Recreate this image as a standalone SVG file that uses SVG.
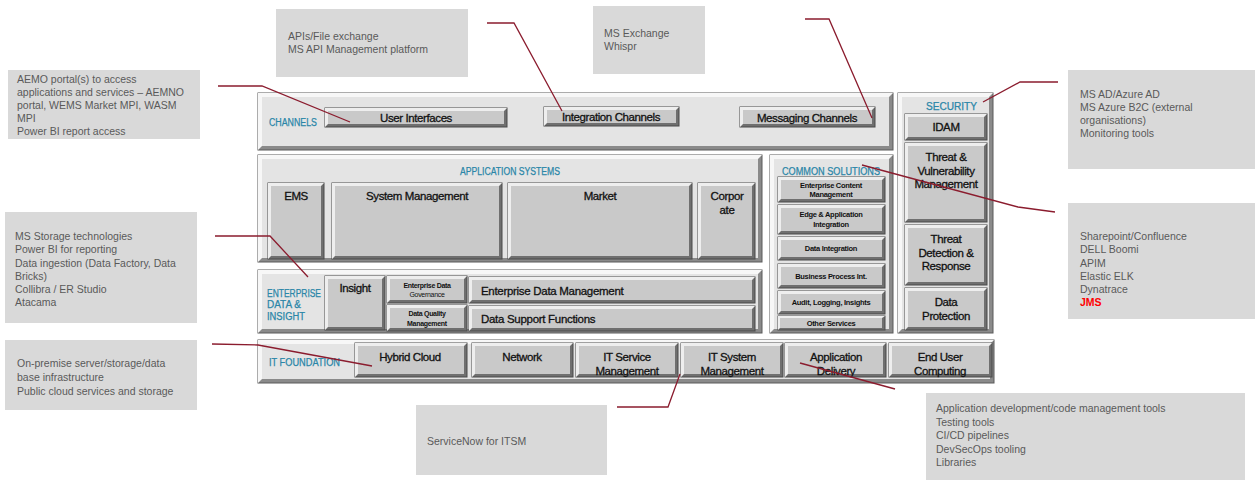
<svg xmlns="http://www.w3.org/2000/svg" width="1255" height="480" viewBox="0 0 1255 480">
<style>
.call{fill:#d9d9d9}
.ct{font-family:"Liberation Sans",Arial,sans-serif;font-size:10.5px;fill:#595959}
.red{fill:#ff0000;font-weight:bold}
.pdark{fill:#8a8a8a;stroke:#5a5a5a;stroke-width:1}
.plight{fill:#f7f7f7}
.pface{fill:#e4e4e4}
.bdark{fill:#6f6f6f;stroke:#4a4a4a;stroke-width:1}
.blight{fill:#eeeeee}
.bface{fill:#c9c9c9}
.lbl{font-family:"Liberation Sans",Arial,sans-serif;font-size:10px;fill:#2a86a8;stroke:#2a86a8;stroke-width:0.25}
.bt{font-family:"Liberation Sans",Arial,sans-serif;font-size:11.5px;fill:#111;stroke:#111;stroke-width:0.3;text-anchor:middle;letter-spacing:-0.4px}
.bl{font-family:"Liberation Sans",Arial,sans-serif;font-size:11.5px;fill:#111;stroke:#111;stroke-width:0.3;letter-spacing:-0.3px}
.bs{font-family:"Liberation Sans",Arial,sans-serif;font-size:7.5px;font-weight:bold;fill:#111;text-anchor:middle;letter-spacing:-0.3px}
.conn{fill:none;stroke:#8b1c2e;stroke-width:1.3}
</style>

<!-- callouts -->
<g id="callout-channels-ui">
<rect class="call" x="8" y="70" width="192" height="69"/>
<text class="ct" x="17" y="83">AEMO portal(s) to access</text>
<text class="ct" x="17" y="96">applications and services – AEMNO</text>
<text class="ct" x="17" y="109">portal, WEMS Market MPI, WASM</text>
<text class="ct" x="17" y="122">MPI</text>
<text class="ct" x="17" y="135">Power BI report access</text>
</g>
<g id="callout-integration">
<rect class="call" x="276" y="9" width="192" height="68"/>
<text class="ct" x="288" y="40">APIs/File exchange</text>
<text class="ct" x="288" y="53">MS API Management platform</text>
</g>
<g id="callout-messaging">
<rect class="call" x="593" y="6" width="112" height="68"/>
<text class="ct" x="604" y="37">MS Exchange</text>
<text class="ct" x="604" y="50">Whispr</text>
</g>
<g id="callout-security">
<rect class="call" x="1068" y="70" width="187" height="99"/>
<text class="ct" x="1080" y="98">MS AD/Azure AD</text>
<text class="ct" x="1080" y="111">MS Azure B2C (external</text>
<text class="ct" x="1080" y="124">organisations)</text>
<text class="ct" x="1080" y="137">Monitoring tools</text>
</g>
<g id="callout-common">
<rect class="call" x="1068" y="203" width="187" height="116"/>
<text class="ct" x="1080" y="240">Sharepoint/Confluence</text>
<text class="ct" x="1080" y="253">DELL Boomi</text>
<text class="ct" x="1080" y="267">APIM</text>
<text class="ct" x="1080" y="280">Elastic ELK</text>
<text class="ct" x="1080" y="293">Dynatrace</text>
<text class="ct red" x="1080" y="306">JMS</text>
</g>
<g id="callout-data">
<rect class="call" x="5" y="212" width="192" height="111"/>
<text class="ct" x="15" y="240">MS Storage technologies</text>
<text class="ct" x="15" y="253">Power BI for reporting</text>
<text class="ct" x="15" y="267">Data ingestion (Data Factory, Data</text>
<text class="ct" x="15" y="280">Bricks)</text>
<text class="ct" x="15" y="293">Collibra / ER Studio</text>
<text class="ct" x="15" y="306">Atacama</text>
</g>
<g id="callout-infra">
<rect class="call" x="5" y="340" width="192" height="70"/>
<text class="ct" x="17" y="367">On-premise server/storage/data</text>
<text class="ct" x="17" y="381">base infrastructure</text>
<text class="ct" x="17" y="395">Public cloud services and storage</text>
</g>
<g id="callout-itsm">
<rect class="call" x="416" y="405" width="191" height="70"/>
<text class="ct" x="427" y="445">ServiceNow for ITSM</text>
</g>
<g id="callout-appdel">
<rect class="call" x="926" y="393" width="319" height="87"/>
<text class="ct" x="936" y="412">Application development/code management tools</text>
<text class="ct" x="936" y="426">Testing tools</text>
<text class="ct" x="936" y="439">CI/CD pipelines</text>
<text class="ct" x="936" y="453">DevSecOps tooling</text>
<text class="ct" x="936" y="466">Libraries</text>
</g>

<!-- panels -->
<g id="panel-channels">
<rect class="pdark" x="258" y="93" width="635" height="57"/>
<polygon class="plight" points="258,93 893,93 889,97 262,97 262,146 258,150"/>
<rect class="pface" x="262" y="97" width="627" height="49"/>
<text class="lbl" x="269" y="126" textLength="48" lengthAdjust="spacingAndGlyphs">CHANNELS</text>
</g>
<g id="panel-security">
<rect class="pdark" x="898" y="93" width="95" height="240"/>
<polygon class="plight" points="898,93 993,93 989,97 902,97 902,329 898,333"/>
<rect class="pface" x="902" y="97" width="87" height="232"/>
<text class="lbl" x="926" y="110" textLength="51" lengthAdjust="spacingAndGlyphs">SECURITY</text>
</g>
<g id="panel-apps">
<rect class="pdark" x="258" y="155" width="504" height="107"/>
<polygon class="plight" points="258,155 762,155 758,159 262,159 262,258 258,262"/>
<rect class="pface" x="262" y="159" width="496" height="99"/>
<text class="lbl" x="460" y="175" textLength="100" lengthAdjust="spacingAndGlyphs">APPLICATION SYSTEMS</text>
</g>
<g id="panel-common">
<rect class="pdark" x="770" y="155" width="123" height="178"/>
<polygon class="plight" points="770,155 893,155 889,159 774,159 774,329 770,333"/>
<rect class="pface" x="774" y="159" width="115" height="170"/>
<text class="lbl" x="782" y="175" textLength="98" lengthAdjust="spacingAndGlyphs">COMMON SOLUTIONS</text>
</g>
<g id="panel-data">
<rect class="pdark" x="258" y="270" width="504" height="63"/>
<polygon class="plight" points="258,270 762,270 758,274 262,274 262,329 258,333"/>
<rect class="pface" x="262" y="274" width="496" height="55"/>
<text class="lbl" x="267" y="297" textLength="54" lengthAdjust="spacingAndGlyphs">ENTERPRISE</text>
<text class="lbl" x="267" y="308" textLength="34" lengthAdjust="spacingAndGlyphs">DATA &amp;</text>
<text class="lbl" x="267" y="320" textLength="38" lengthAdjust="spacingAndGlyphs">INSIGHT</text>
</g>
<g id="panel-foundation">
<rect class="pdark" x="258" y="340" width="736" height="43"/>
<polygon class="plight" points="258,340 994,340 990,344 262,344 262,379 258,383"/>
<rect class="pface" x="262" y="344" width="728" height="35"/>
<text class="lbl" x="269" y="366" textLength="71" lengthAdjust="spacingAndGlyphs">IT FOUNDATION</text>
</g>

<!-- buttons -->
<g id="btn-user-interfaces">
<rect class="bdark" x="325" y="108" width="182" height="19"/>
<polygon class="blight" points="325,108 507,108 504,111 328,111 328,124 325,127"/>
<rect class="bface" x="328" y="111" width="176" height="13"/>
<text class="bt" x="416" y="122">User Interfaces</text>
</g>
<g id="btn-integration">
<rect class="bdark" x="544" y="107" width="135" height="19"/>
<polygon class="blight" points="544,107 679,107 676,110 547,110 547,123 544,126"/>
<rect class="bface" x="547" y="110" width="129" height="13"/>
<text class="bt" x="611" y="121">Integration  Channels</text>
</g>
<g id="btn-messaging">
<rect class="bdark" x="740" y="107" width="135" height="20"/>
<polygon class="blight" points="740,107 875,107 872,110 743,110 743,124 740,127"/>
<rect class="bface" x="743" y="110" width="129" height="14"/>
<text class="bt" x="807" y="122">Messaging Channels</text>
</g>
<g id="btn-idam">
<rect class="bdark" x="905" y="114" width="82" height="26"/>
<polygon class="blight" points="905,114 987,114 984,117 908,117 908,137 905,140"/>
<rect class="bface" x="908" y="117" width="76" height="20"/>
<text class="bt" x="946" y="131">IDAM</text>
</g>
<g id="btn-threat-vuln">
<rect class="bdark" x="905" y="143" width="82" height="79"/>
<polygon class="blight" points="905,143 987,143 984,146 908,146 908,219 905,222"/>
<rect class="bface" x="908" y="146" width="76" height="73"/>
<text class="bt" x="946" y="161">Threat &amp;</text>
<text class="bt" x="946" y="175">Vulnerability</text>
<text class="bt" x="946" y="188">Management</text>
</g>
<g id="btn-threat-detect">
<rect class="bdark" x="905" y="225" width="82" height="60"/>
<polygon class="blight" points="905,225 987,225 984,228 908,228 908,282 905,285"/>
<rect class="bface" x="908" y="228" width="76" height="54"/>
<text class="bt" x="946" y="243">Threat</text>
<text class="bt" x="946" y="257">Detection &amp;</text>
<text class="bt" x="946" y="270">Response</text>
</g>
<g id="btn-data-protection">
<rect class="bdark" x="905" y="288" width="82" height="42"/>
<polygon class="blight" points="905,288 987,288 984,291 908,291 908,327 905,330"/>
<rect class="bface" x="908" y="291" width="76" height="36"/>
<text class="bt" x="946" y="306">Data</text>
<text class="bt" x="946" y="320">Protection</text>
</g>
<g id="btn-ems">
<rect class="bdark" x="268" y="183" width="56" height="76"/>
<polygon class="blight" points="268,183 324,183 321,186 271,186 271,256 268,259"/>
<rect class="bface" x="271" y="186" width="50" height="70"/>
<text class="bt" x="296" y="200">EMS</text>
</g>
<g id="btn-system-mgmt">
<rect class="bdark" x="332" y="183" width="170" height="76"/>
<polygon class="blight" points="332,183 502,183 499,186 335,186 335,256 332,259"/>
<rect class="bface" x="335" y="186" width="164" height="70"/>
<text class="bt" x="417" y="200">System Management</text>
</g>
<g id="btn-market">
<rect class="bdark" x="508" y="183" width="184" height="76"/>
<polygon class="blight" points="508,183 692,183 689,186 511,186 511,256 508,259"/>
<rect class="bface" x="511" y="186" width="178" height="70"/>
<text class="bt" x="600" y="200">Market</text>
</g>
<g id="btn-corporate">
<rect class="bdark" x="698" y="183" width="57" height="76"/>
<polygon class="blight" points="698,183 755,183 752,186 701,186 701,256 698,259"/>
<rect class="bface" x="701" y="186" width="51" height="70"/>
<text class="bt" x="727" y="200">Corpor</text>
<text class="bt" x="727" y="214">ate</text>
</g>
<g id="btn-ecm">
<rect class="bdark" x="778" y="177" width="107" height="25"/>
<polygon class="blight" points="778,177 885,177 882,180 781,180 781,199 778,202"/>
<rect class="bface" x="781" y="180" width="101" height="19"/>
<text class="bs" x="831" y="188">Enterprise Content</text>
<text class="bs" x="831" y="197">Management</text>
</g>
<g id="btn-edge">
<rect class="bdark" x="778" y="205" width="107" height="29"/>
<polygon class="blight" points="778,205 885,205 882,208 781,208 781,231 778,234"/>
<rect class="bface" x="781" y="208" width="101" height="23"/>
<text class="bs" x="831" y="217">Edge &amp; Application</text>
<text class="bs" x="831" y="227">Integration</text>
</g>
<g id="btn-data-integration">
<rect class="bdark" x="778" y="237" width="107" height="23"/>
<polygon class="blight" points="778,237 885,237 882,240 781,240 781,257 778,260"/>
<rect class="bface" x="781" y="240" width="101" height="17"/>
<text class="bs" x="831" y="251">Data Integration</text>
</g>
<g id="btn-bpi">
<rect class="bdark" x="778" y="264" width="107" height="24"/>
<polygon class="blight" points="778,264 885,264 882,267 781,267 781,285 778,288"/>
<rect class="bface" x="781" y="267" width="101" height="18"/>
<text class="bs" x="831" y="279">Business Process Int.</text>
</g>
<g id="btn-audit">
<rect class="bdark" x="778" y="291" width="107" height="23"/>
<polygon class="blight" points="778,291 885,291 882,294 781,294 781,311 778,314"/>
<rect class="bface" x="781" y="294" width="101" height="17"/>
<text class="bs" x="831" y="305">Audit, Logging, Insights</text>
</g>
<g id="btn-other">
<rect class="bdark" x="778" y="316" width="107" height="14"/>
<polygon class="blight" points="778,316 885,316 882,318 780,318 780,328 778,330"/>
<rect class="bface" x="780" y="318" width="102" height="10"/>
<text class="bs" x="831" y="326">Other Services</text>
</g>
<g id="btn-insight">
<rect class="bdark" x="325" y="276" width="60" height="54"/>
<polygon class="blight" points="325,276 385,276 382,279 328,279 328,327 325,330"/>
<rect class="bface" x="328" y="279" width="54" height="48"/>
<text class="bt" x="355" y="292">Insight</text>
</g>
<g id="btn-edg">
<rect class="bdark" x="387" y="276" width="80" height="27"/>
<polygon class="blight" points="387,276 467,276 464,279 390,279 390,300 387,303"/>
<rect class="bface" x="390" y="279" width="74" height="21"/>
<text class="bs" x="427" y="288" style="font-size:7px">Enterprise Data</text>
<text class="bs" x="427" y="297" style="font-size:7px;font-weight:normal">Governance</text>
</g>
<g id="btn-dqm">
<rect class="bdark" x="387" y="305" width="80" height="26"/>
<polygon class="blight" points="387,305 467,305 464,308 390,308 390,328 387,331"/>
<rect class="bface" x="390" y="308" width="74" height="20"/>
<text class="bs" x="427" y="316" style="font-size:7px">Data Quality</text>
<text class="bs" x="427" y="326" style="font-size:7px">Management</text>
</g>
<g id="btn-edm">
<rect class="bdark" x="469" y="277" width="286" height="26"/>
<polygon class="blight" points="469,277 755,277 752,280 472,280 472,300 469,303"/>
<rect class="bface" x="472" y="280" width="280" height="20"/>
<text class="bl" x="481" y="295">Enterprise Data Management</text>
</g>
<g id="btn-dsf">
<rect class="bdark" x="469" y="306" width="286" height="25"/>
<polygon class="blight" points="469,306 755,306 752,309 472,309 472,328 469,331"/>
<rect class="bface" x="472" y="309" width="280" height="19"/>
<text class="bl" x="481" y="323">Data Support Functions</text>
</g>
<g id="btn-hybrid">
<rect class="bdark" x="355" y="343" width="112" height="34"/>
<polygon class="blight" points="355,343 467,343 464,346 358,346 358,374 355,377"/>
<rect class="bface" x="358" y="346" width="106" height="28"/>
<text class="bt" x="410" y="361">Hybrid Cloud</text>
</g>
<g id="btn-network">
<rect class="bdark" x="472" y="343" width="101" height="34"/>
<polygon class="blight" points="472,343 573,343 570,346 475,346 475,374 472,377"/>
<rect class="bface" x="475" y="346" width="95" height="28"/>
<text class="bt" x="522" y="361">Network</text>
</g>
<g id="btn-itsm">
<rect class="bdark" x="576" y="343" width="102" height="34"/>
<polygon class="blight" points="576,343 678,343 675,346 579,346 579,374 576,377"/>
<rect class="bface" x="579" y="346" width="96" height="28"/>
<text class="bt" x="627" y="361">IT Service</text>
<text class="bt" x="627" y="375">Management</text>
</g>
<g id="btn-it-system">
<rect class="bdark" x="681" y="343" width="102" height="34"/>
<polygon class="blight" points="681,343 783,343 780,346 684,346 684,374 681,377"/>
<rect class="bface" x="684" y="346" width="96" height="28"/>
<text class="bt" x="732" y="361">IT System</text>
<text class="bt" x="732" y="375">Management</text>
</g>
<g id="btn-app-delivery">
<rect class="bdark" x="785" y="343" width="101" height="34"/>
<polygon class="blight" points="785,343 886,343 883,346 788,346 788,374 785,377"/>
<rect class="bface" x="788" y="346" width="95" height="28"/>
<text class="bt" x="836" y="361">Application</text>
<text class="bt" x="836" y="375">Delivery</text>
</g>
<g id="btn-euc">
<rect class="bdark" x="889" y="343" width="103" height="34"/>
<polygon class="blight" points="889,343 992,343 989,346 892,346 892,374 889,377"/>
<rect class="bface" x="892" y="346" width="97" height="28"/>
<text class="bt" x="940" y="361">End User</text>
<text class="bt" x="940" y="375">Computing</text>
</g>

<!-- connectors -->
<g id="connectors">
<polyline class="conn" points="218,86 262,86 350,122"/>
<polyline class="conn" points="487,23 514,23 562,111"/>
<polyline class="conn" points="805,19 829,19 872,118"/>
<polyline class="conn" points="1058,82 1020,82 983,102"/>
<polyline class="conn" points="862,165 1018,207 1055,212"/>
<polyline class="conn" points="215,236 270,236 308,277"/>
<polyline class="conn" points="212,344 258,345 372,366"/>
<polyline class="conn" points="617,407 668,407 680,374"/>
<polyline class="conn" points="800,363 895,389"/>
</g>
</svg>
